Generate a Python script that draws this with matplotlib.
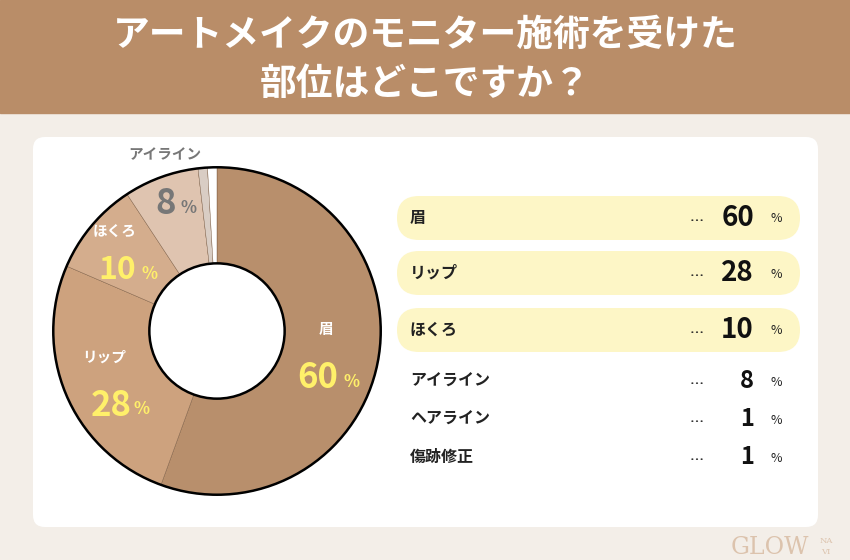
import matplotlib.pyplot as plt
from matplotlib.patches import FancyBboxPatch, Rectangle, Circle

plt.rcParams['font.family'] = ['Noto Sans CJK JP', 'DejaVu Sans']

# data
title = "アートメイクのモニター施術を受けた\n部位はどこですか？"
parts = ["眉", "リップ", "ほくろ", "アイライン", "ヘアライン", "傷跡修正"]
values = [60, 28, 10, 8, 1, 1]
colors = ["#b88f6c", "#cda27e", "#d4ad8d", "#dfc4b0", "#d9cdc4", "#ffffff"]
highlight = [True, True, True, False, False, False]

BROWN = "#b98d68"
YELLOW = "#fff06a"

fig = plt.figure(figsize=(8.5, 5.6), dpi=100)
bg = fig.add_axes([0, 0, 1, 1])
bg.set_xlim(0, 850)
bg.set_ylim(560, 0)
bg.axis("off")

# background + banner
bg.add_patch(Rectangle((0, 0), 850, 560, color="#f3eee8", zorder=0))
bg.add_patch(Rectangle((0, 0), 850, 113, color=BROWN, zorder=1))
bg.text(425, 60, title, ha="center", va="center", color="white",
        fontsize=26.5, fontweight="bold", linespacing=1.4, zorder=2)

# white card
bg.add_patch(FancyBboxPatch((33, 137), 785, 390,
                            boxstyle="round,pad=0,rounding_size=12",
                            fc="white", ec="none", zorder=1))

# list on the right
row_y = [218, 273, 330, 381, 419, 457]
for i in range(len(parts)):
    y = row_y[i]
    if highlight[i]:
        bg.add_patch(FancyBboxPatch((397, y - 22), 403, 44,
                                    boxstyle="round,pad=0,rounding_size=22",
                                    fc="#fdf6c6", ec="none", zorder=2))
        nsize = 20
    else:
        nsize = 17
    bg.text(410, y, parts[i], ha="left", va="center", fontsize=11.5,
            fontweight="bold", color="#222222", zorder=3)
    bg.text(697, y + 3, "…", ha="center", va="center", fontsize=10,
            fontweight="bold", color="#222222", zorder=3)
    bg.text(754, y, str(values[i]), ha="right", va="center", fontsize=nsize,
            fontweight="bold", color="#111111", zorder=3)
    bg.text(776, y + 1, "%", ha="center", va="center", fontsize=9,
            color="#222222", zorder=3)

# logo
bg.text(770, 548, "GLOW", ha="center", va="center", fontsize=17,
        family="DejaVu Serif", color="#dcc3ad", zorder=3)
bg.text(826, 541, "NA", ha="center", va="center", fontsize=6,
        family="DejaVu Serif", color="#dcc3ad", zorder=3)
bg.text(826, 552, "VI", ha="center", va="center", fontsize=6,
        family="DejaVu Serif", color="#dcc3ad", zorder=3)

# donut
cx, cy, r = 217, 331, 167
ax = fig.add_axes([(cx - r) / 850, (560 - cy - r) / 560, 2 * r / 850, 2 * r / 560])
ax.set_zorder(5)
ax.pie(values, colors=colors, startangle=90, counterclock=False, radius=1,
       wedgeprops=dict(width=1 - 69 / 167, edgecolor="#7a5a40", linewidth=0.3))
ax.add_patch(Circle((0, 0), 1, fill=False, ec="black", lw=1.8))
ax.add_patch(Circle((0, 0), 69 / 167, fill=False, ec="black", lw=1.8))
ax.set_xlim(-1.02, 1.02)
ax.set_ylim(-1.02, 1.02)
ax.set_aspect("equal")
ax.axis("off")

# overlay for donut labels, in pixel coords
top = fig.add_axes([0, 0, 1, 1])
top.set_zorder(10)
top.patch.set_visible(False)
top.set_xlim(0, 850)
top.set_ylim(560, 0)
top.axis("off")

name_pos = [(326, 329), (104, 357), (115, 231), (165, 154)]
name_col = ["white", "white", "white", "#777777"]
num_pos = [(318, 378, 352), (111, 405, 142), (117, 270, 150), (166, 204, 189)]
num_col = [YELLOW, YELLOW, YELLOW, "#777777"]
num_size = [25, 25, 23, 25]
for i in range(4):
    top.text(name_pos[i][0], name_pos[i][1], parts[i], ha="center", va="center",
             fontsize=10.5, fontweight="bold", color=name_col[i])
    nx, ny, px = num_pos[i]
    top.text(nx, ny, str(values[i]), ha="center", va="center",
             fontsize=num_size[i], fontweight="bold", color=num_col[i])
    top.text(px, ny + 4, "%", ha="center", va="center", fontsize=12,
             fontweight="bold", color=num_col[i])

fig.savefig("out.png", dpi=100)
